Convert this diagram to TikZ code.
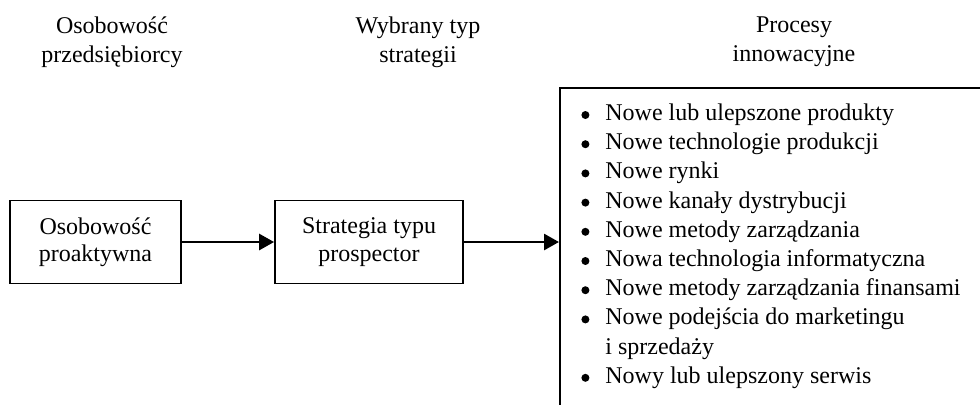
\documentclass[tikz,border=0pt]{standalone}
\usepackage{fontspec}
\setmainfont{Liberation Serif}
\usetikzlibrary{arrows.meta}
% round list bullet, centred on the x-height
\newcommand\listdot{\raisebox{0.7pt}{\tikz\fill (0,0) circle (2pt);}}
\begin{document}
\begin{tikzpicture}[x=0.5pt,y=-0.5pt,
  every node/.style={font=\fontsize{12}{14.6}\selectfont},
  heading/.style={align=center, inner sep=0pt},
  stagebox/.style={draw, line width=0.9pt, minimum width=85.5pt, minimum height=41.5pt,
                   align=center, inner sep=0pt, font=\fontsize{12}{13.6}\selectfont},
  flow/.style={line width=1.4pt, -{Triangle[length=7.5pt,width=8pt]}},
  listline/.style={anchor=base west, inner sep=0pt}]
\useasboundingbox (0,0) rectangle (980,404);
\clip (0,0) rectangle (980,404);
\fill[white] (0,0) rectangle (980,404);

% column headings
\node[heading] (h1) at (112,42) {Osobowość\\przedsiębiorcy};
\node[heading] (h2) at (418,42) {Wybrany typ\\strategii};
\node[heading] (h3) at (794,42) {Procesy\\innowacyjne};

% stages
\node[stagebox] (pers) at (95.5,242) {Osobowość\\proaktywna};
\node[stagebox, minimum width=94pt] (strat) at (369,242) {Strategia typu\\prospector};
\node[draw, line width=0.9pt, anchor=north west, minimum width=240pt,
      minimum height=180pt, inner sep=0pt] (proc) at (559,87) {};

% connectors
\draw[flow] (pers) -- (strat);
\draw[flow] (strat) -- (strat -| proc.west);

% list of innovation processes
\foreach \b/\t [count=\i from 0] in {
  1/Nowe lub ulepszone produkty,
  1/Nowe technologie produkcji,
  1/Nowe rynki,
  1/Nowe kanały dystrybucji,
  1/Nowe metody zarządzania,
  1/Nowa technologia informatyczna,
  1/Nowe metody zarządzania finansami,
  1/Nowe podejścia do marketingu,
  0/i sprzedaży,
  1/Nowy lub ulepszony serwis}
  \node[listline] (item\i) at (581,{120.4+29.2*\i})
    {\makebox[12pt][l]{\ifnum\b=1 \listdot\fi}\t};
\end{tikzpicture}
\end{document}
